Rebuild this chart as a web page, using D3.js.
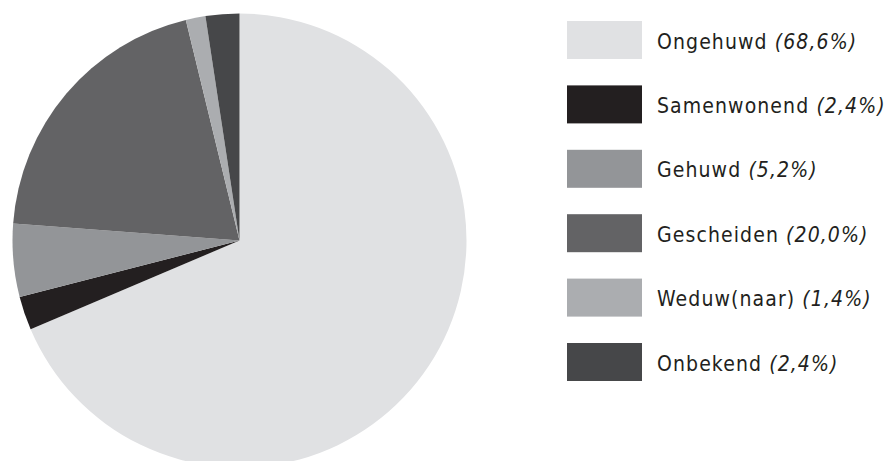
<!DOCTYPE html>
<html>
<head>
<meta charset="utf-8">
<script src="https://cdn.jsdelivr.net/npm/d3@7"></script>
<style>
  body { margin: 0; background: #fff; }
  svg { display: block; }
</style>
</head>
<body>
<svg id="chart" width="889" height="461"></svg>
<script>
const categories = ["Ongehuwd", "Samenwonend", "Gehuwd", "Gescheiden", "Weduw(naar)", "Onbekend"];
const values = [68.6, 2.4, 5.2, 20.0, 1.4, 2.4];
const valueLabels = ["(68,6%)", "(2,4%)", "(5,2%)", "(20,0%)", "(1,4%)", "(2,4%)"];
const colors = ["#e0e1e3", "#231f20", "#939598", "#636365", "#abadb0", "#464749"];

const svg = d3.select("#chart");
const cx = 239.5, cy = 240.5, radius = 227;

const data = categories.map((c, i) => ({ name: c, value: values[i], label: valueLabels[i], color: colors[i] }));

const pie = d3.pie().sort(null).value((d) => d.value);
const arc = d3.arc().innerRadius(0).outerRadius(radius);

svg.append("g")
  .attr("transform", `translate(${cx},${cy})`)
  .selectAll("path")
  .data(pie(data))
  .join("path")
  .attr("d", arc)
  .attr("fill", (d) => d.data.color);

// legend
const legendY = d3.scalePoint().domain(categories).range([21, 343]);
const legend = svg.append("g");

const item = legend.selectAll("g")
  .data(data)
  .join("g")
  .attr("transform", (d) => `translate(567,${legendY(d.name)})`);

item.append("rect")
  .attr("width", 75)
  .attr("height", 38)
  .attr("fill", (d) => d.color);

const txt = item.append("text")
  .attr("x", 90)
  .attr("y", 27.5)
  .attr("font-family", "'DejaVu Sans Condensed', 'DejaVu Sans', sans-serif")
  .attr("font-size", 21)
  .attr("letter-spacing", 1.1)
  .attr("fill", "#231f20");

txt.append("tspan").text((d) => d.name + " ");
txt.append("tspan").attr("font-style", "italic").text((d) => d.label);
</script>
</body>
</html>
